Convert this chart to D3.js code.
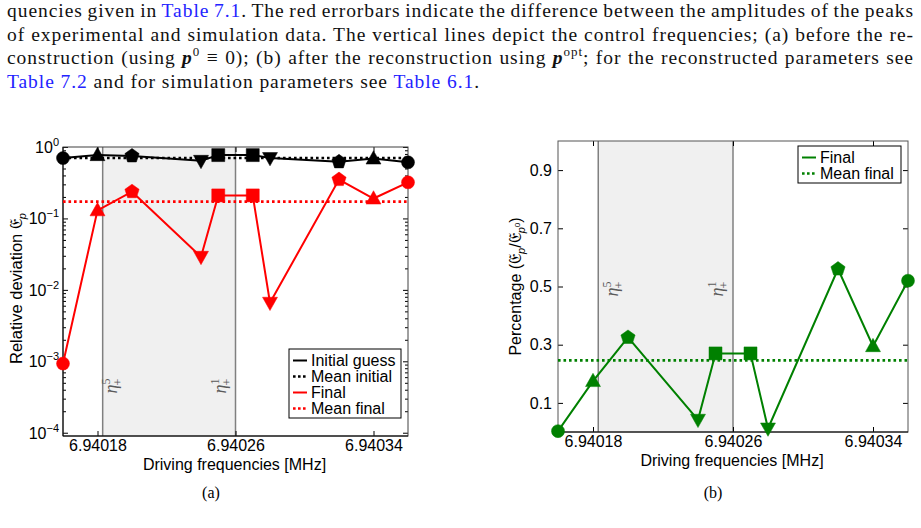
<!DOCTYPE html>
<html><head><meta charset="utf-8">
<script src="https://cdn.jsdelivr.net/npm/d3@7"></script>
<style>body{margin:0;background:#fff} svg{display:block}</style>
</head><body>
<svg id="c" width="921" height="528"></svg>
<script>
// ---------------- data ----------------
const freqs = [6.94016, 6.94018, 6.94020, 6.94024, 6.94025, 6.94027, 6.94028, 6.94032, 6.94034, 6.94036];
const markerTypes = ["circle","triangle","pentagon","triangleDown","square","square","triangleDown","pentagon","triangle","circle"];
const initialGuess = [0.70, 0.77, 0.75, 0.64, 0.77, 0.77, 0.70, 0.62, 0.69, 0.61];
const finalDeviation = [9.3e-4, 0.13, 0.237, 0.029, 0.21, 0.21, 0.0066, 0.35, 0.19, 0.32];
const meanInitial = 0.70;
const meanFinal = 0.172;
const percentage = [0.003, 0.175, 0.325, 0.042, 0.27, 0.27, 0.012, 0.56, 0.295, 0.52];
const meanPercentage = 0.246;
const controlFreqs = [6.940183, 6.94026];
const controlLabels = ["5", "1"];
const xTickValues = [6.94018, 6.94026, 6.94034];
const logTickExps = [0, -1, -2, -3, -4];
const pctTickValues = [0.1, 0.3, 0.5, 0.7, 0.9];
const legendA = ["Initial guess", "Mean initial", "Final", "Mean final"];
const legendB = ["Final", "Mean final"];

const paragraph = [
  [{t:"quencies given in "},{t:"Table 7.1",link:1},{t:". The red errorbars indicate the difference between the amplitudes of the peaks"}],
  [{t:"of experimental and simulation data. The vertical lines depict the control frequencies; (a) before the re-"}],
  [{t:"construction (using "},{t:"p",bi:1},{t:"0",sup:1},{t:" ≡ 0); (b) after the reconstruction using "},{t:"p",bi:1},{t:"opt",sup:1},{t:"; for the reconstructed parameters see"}],
  [{t:"Table 7.2",link:1},{t:" and for simulation parameters see "},{t:"Table 6.1",link:1},{t:"."}]
];

// ---------------- setup ----------------
const svg = d3.select("#c");
const SANS = "'Liberation Sans', Arial, Helvetica, sans-serif";
const SERIF = "'Liberation Serif', 'DejaVu Serif', serif";
const RED = "#ff0000", GREEN = "#008000", GREYL = "#808080", SHADE = "#f0f0f0";

// paragraph text, justified by word spacing
const pLeft = 7, pRight = 914, pBase = [17, 40.5, 64, 87.5];
const pTexts = paragraph.map((segs, i) => {
  const t = svg.append("text").attr("x", pLeft).attr("y", pBase[i])
    .attr("font-family", SERIF).attr("font-size", 19.5).attr("fill", "#111");
  let raised = false;
  segs.forEach(s => {
    const ts = t.append("tspan").text(s.t);
    if (s.link) ts.attr("fill", "#2323ff");
    if (s.bi) ts.attr("font-weight", "bold").attr("font-style", "italic");
    if (s.sup) { ts.attr("font-size", 13).attr("dy", -8); raised = true; }
    else if (raised) { ts.attr("dy", 8); raised = false; }
  });
  return t;
});
// letter spacing chosen so the last (unjustified) line has its natural width
{
  const last = pTexts[3];
  const str = paragraph[3].map(s => s.t).join("");
  const ls = (473 - last.node().getComputedTextLength()) / str.length;
  pTexts.forEach((t, i) => {
    t.attr("letter-spacing", ls);
    if (i < 3) {
      const nat = t.node().getComputedTextLength();
      const nSp = paragraph[i].map(s => s.t).join("").split(" ").length - 1;
      t.attr("word-spacing", (pRight - pLeft - nat) / nSp);
    }
  });
}

function markerPath(type, s) {
  const p = d3.path();
  if (type === "circle") { p.moveTo(s, 0); p.arc(0, 0, s, 0, 2 * Math.PI); }
  else if (type === "square") { p.rect(-s, -s, 2 * s, 2 * s); }
  else if (type === "triangle" || type === "triangleDown") {
    const k = type === "triangle" ? 1 : -1;
    p.moveTo(0, -k * s * 1.2); p.lineTo(s * 1.15, k * s * 0.85); p.lineTo(-s * 1.15, k * s * 0.85); p.closePath();
  } else if (type === "pentagon") {
    for (let j = 0; j < 5; j++) {
      const a = -Math.PI / 2 + j * 2 * Math.PI / 5, r = s * 1.15;
      if (j === 0) p.moveTo(r * Math.cos(a), r * Math.sin(a)); else p.lineTo(r * Math.cos(a), r * Math.sin(a));
    }
    p.closePath();
  }
  return p.toString();
}

function etaLabel(g, x, y, sup) {
  const t = g.append("text").attr("transform", `translate(${x},${y}) rotate(-90)`)
    .attr("text-anchor", "middle").attr("fill", "#5a5a5a").attr("font-family", SERIF);
  t.append("tspan").attr("font-style", "italic").attr("font-size", 18).text("η");
  t.append("tspan").attr("font-size", 12).attr("dy", -7).text(sup);
  t.append("tspan").attr("font-size", 12).attr("dx", -7).attr("dy", 12).text("+");
}

function series(g, x, y, vals, color) {
  const line = d3.line().x((d, i) => x(freqs[i])).y(d => y(d));
  g.append("path").attr("d", line(vals)).attr("fill", "none").attr("stroke", color).attr("stroke-width", 2);
  g.selectAll(null).data(vals).join("path")
    .attr("d", (d, i) => markerPath(markerTypes[i], 6.5))
    .attr("transform", (d, i) => `translate(${x(freqs[i])},${y(d)})`)
    .attr("fill", color).attr("stroke", color).attr("stroke-width", 0.5);
}

function meanLine(g, x, y, v, color) {
  g.append("line").attr("x1", x.range()[0]).attr("x2", x.range()[1]).attr("y1", y(v)).attr("y2", y(v))
    .attr("stroke", color).attr("stroke-width", 2.6).attr("stroke-dasharray", "2.6,2.9");
}

function styleAxis(sel) {
  sel.select(".domain").remove();
  sel.selectAll(".tick line").attr("stroke", "#000");
  sel.selectAll("text").attr("font-family", SANS).attr("font-size", 16).attr("fill", "#000");
}

function legend(g, x0, y0, w, entries, styles) {
  const rowH = 16;
  g.append("rect").attr("x", x0).attr("y", y0).attr("width", w).attr("height", entries.length * rowH + 5)
    .attr("fill", "#fff").attr("stroke", "#000").attr("stroke-width", 1);
  entries.forEach((e, i) => {
    const cy = y0 + 11.5 + i * rowH;
    const st = styles[i];
    g.append("line").attr("x1", x0 + 4).attr("x2", x0 + 18).attr("y1", cy).attr("y2", cy)
      .attr("stroke", st.c).attr("stroke-width", st.dot ? 2.6 : 2)
      .attr("stroke-dasharray", st.dot ? "2.6,2.4" : null);
    g.append("text").attr("x", x0 + 22).attr("y", cy + 5.7).attr("font-family", SANS)
      .attr("font-size", 16).text(e);
  });
}

// ---------------- panel (a) ----------------
{
  const g = svg.append("g");
  const x = d3.scaleLinear().domain([6.94016, 6.94036]).range([63, 408]);
  const y = d3.scaleLog().domain([9e-5, 1]).range([436, 147]);
  const [X0, X1] = x.range(), [Y1, Y0] = y.range();

  g.append("rect").attr("x", x(controlFreqs[0])).attr("y", Y0).attr("width", x(controlFreqs[1]) - x(controlFreqs[0]))
    .attr("height", Y1 - Y0).attr("fill", SHADE);
  controlFreqs.forEach(f => g.append("line").attr("x1", x(f)).attr("x2", x(f)).attr("y1", Y0).attr("y2", Y1)
    .attr("stroke", GREYL).attr("stroke-width", 1.5));
  etaLabel(g, x(controlFreqs[0]) + 14, 386, controlLabels[0]);
  etaLabel(g, x(controlFreqs[1]) - 10, 386, controlLabels[1]);

  const minor = [];
  for (let e = -4; e < 0; e++) for (let m = 2; m < 10; m++) minor.push(m * Math.pow(10, e));
  const majors = logTickExps.map(e => Math.pow(10, e));
  g.append("g").attr("transform", `translate(${X0},0)`).call(d3.axisLeft(y).tickValues(majors).tickSize(-5).tickFormat("")).call(styleAxis);
  g.append("g").attr("transform", `translate(${X0},0)`).call(d3.axisLeft(y).tickValues(minor).tickSize(-3).tickFormat("")).call(styleAxis);
  g.append("g").attr("transform", `translate(${X1},0)`).call(d3.axisRight(y).tickValues(majors).tickSize(-5).tickFormat("")).call(styleAxis);
  g.append("g").attr("transform", `translate(${X1},0)`).call(d3.axisRight(y).tickValues(minor).tickSize(-3).tickFormat("")).call(styleAxis);
  g.append("g").attr("transform", `translate(0,${Y1})`).call(d3.axisBottom(x).tickValues(xTickValues).tickSize(-5).tickPadding(4).tickFormat(d3.format(".5f"))).call(styleAxis);
  g.append("g").attr("transform", `translate(0,${Y0})`).call(d3.axisTop(x).tickValues(xTickValues).tickSize(-5).tickFormat("")).call(styleAxis);

  logTickExps.forEach(e => {
    const t = g.append("text").attr("x", X0 - 4).attr("y", y(Math.pow(10, e)) + 6).attr("text-anchor", "end")
      .attr("font-family", SANS).attr("font-size", 16);
    t.append("tspan").text("10");
    t.append("tspan").attr("font-size", 11).attr("dy", -7).text(e === 0 ? "0" : "−" + (-e));
  });

  g.append("rect").attr("x", X0).attr("y", Y0).attr("width", X1 - X0).attr("height", Y1 - Y0)
    .attr("fill", "none").attr("stroke", "#404040").attr("stroke-width", 1);
  g.append("line").attr("x1", X0).attr("x2", X1).attr("y1", Y1).attr("y2", Y1).attr("stroke", "#000");
  g.append("line").attr("x1", X0).attr("x2", X0).attr("y1", Y0).attr("y2", Y1).attr("stroke", "#000");

  meanLine(g, x, y, meanInitial, "#000");
  meanLine(g, x, y, meanFinal, RED);
  series(g, x, y, initialGuess, "#000");
  series(g, x, y, finalDeviation, RED);

  legend(g, 289, 349, 112, legendA, [{c:"#000"},{c:"#000",dot:1},{c:RED},{c:RED,dot:1}]);

  g.append("text").attr("x", (X0 + X1) / 2 - 1).attr("y", 470).attr("text-anchor", "middle")
    .attr("font-family", SANS).attr("font-size", 16).text("Driving frequencies [MHz]");
  const yl = g.append("text").attr("transform", `translate(22,${(Y0 + Y1) / 2 - 3}) rotate(-90)`)
    .attr("text-anchor", "middle").attr("font-family", SANS).attr("font-size", 16.5);
  yl.append("tspan").text("Relative deviation ");
  yl.append("tspan").attr("font-family", "'DejaVu Serif', serif").attr("font-size", 17).text("𝔈");
  yl.append("tspan").attr("font-size", 11).attr("font-style", "italic").attr("dy", 4).text("p");

  svg.append("text").attr("x", 211).attr("y", 498).attr("text-anchor", "middle")
    .attr("font-family", SERIF).attr("font-size", 16).text("(a)");
}

// ---------------- panel (b) ----------------
{
  const g = svg.append("g");
  const x = d3.scaleLinear().domain([6.94016, 6.94036]).range([558, 908]);
  const y = d3.scaleLinear().domain([0, 1]).range([432, 141]);
  const [X0, X1] = x.range(), [Y1, Y0] = y.range();

  g.append("rect").attr("x", x(controlFreqs[0])).attr("y", Y0).attr("width", x(controlFreqs[1]) - x(controlFreqs[0]))
    .attr("height", Y1 - Y0).attr("fill", SHADE);
  controlFreqs.forEach(f => g.append("line").attr("x1", x(f)).attr("x2", x(f)).attr("y1", Y0).attr("y2", Y1)
    .attr("stroke", GREYL).attr("stroke-width", 1.5));
  etaLabel(g, x(controlFreqs[0]) + 20, 289, controlLabels[0]);
  etaLabel(g, x(controlFreqs[1]) - 10, 289, controlLabels[1]);

  g.append("g").attr("transform", `translate(${X0},0)`).call(d3.axisLeft(y).tickValues(pctTickValues).tickSize(-5).tickPadding(6).tickFormat(d3.format(".1f"))).call(styleAxis);
  g.append("g").attr("transform", `translate(${X1},0)`).call(d3.axisRight(y).tickValues(pctTickValues).tickSize(-5).tickFormat("")).call(styleAxis);
  g.append("g").attr("transform", `translate(0,${Y1})`).call(d3.axisBottom(x).tickValues(xTickValues).tickSize(-5).tickPadding(4).tickFormat(d3.format(".5f"))).call(styleAxis);
  g.append("g").attr("transform", `translate(0,${Y0})`).call(d3.axisTop(x).tickValues(xTickValues).tickSize(-5).tickFormat("")).call(styleAxis);

  g.append("rect").attr("x", X0).attr("y", Y0).attr("width", X1 - X0).attr("height", Y1 - Y0)
    .attr("fill", "none").attr("stroke", "#555").attr("stroke-width", 1);
  g.append("line").attr("x1", X0).attr("x2", X1).attr("y1", Y1).attr("y2", Y1).attr("stroke", "#000");

  meanLine(g, x, y, meanPercentage, GREEN);
  series(g, x, y, percentage, GREEN);

  legend(g, 798, 146, 103, legendB, [{c:GREEN},{c:GREEN,dot:1}]);

  g.append("text").attr("x", (X0 + X1) / 2 - 1).attr("y", 466).attr("text-anchor", "middle")
    .attr("font-family", SANS).attr("font-size", 16).text("Driving frequencies [MHz]");
  const yl = g.append("text").attr("transform", `translate(521,${(Y0 + Y1) / 2}) rotate(-90)`)
    .attr("text-anchor", "middle").attr("font-family", SANS).attr("font-size", 16);
  yl.append("tspan").text("Percentage (");
  yl.append("tspan").attr("font-family", "'DejaVu Serif', serif").attr("font-size", 17).text("𝔈");
  yl.append("tspan").attr("font-size", 11).attr("font-style", "italic").attr("dy", 4).text("p");
  yl.append("tspan").attr("dy", -4).text("/");
  yl.append("tspan").attr("font-family", "'DejaVu Serif', serif").attr("font-size", 17).text("𝔈");
  yl.append("tspan").attr("font-size", 11).attr("font-style", "italic").attr("dy", 4).text("p");
  yl.append("tspan").attr("font-size", 8).attr("dy", -5).text("0");
  yl.append("tspan").attr("dy", 1).text(")");

  svg.append("text").attr("x", 713).attr("y", 498).attr("text-anchor", "middle")
    .attr("font-family", SERIF).attr("font-size", 16).text("(b)");
}
</script>
</body></html>
